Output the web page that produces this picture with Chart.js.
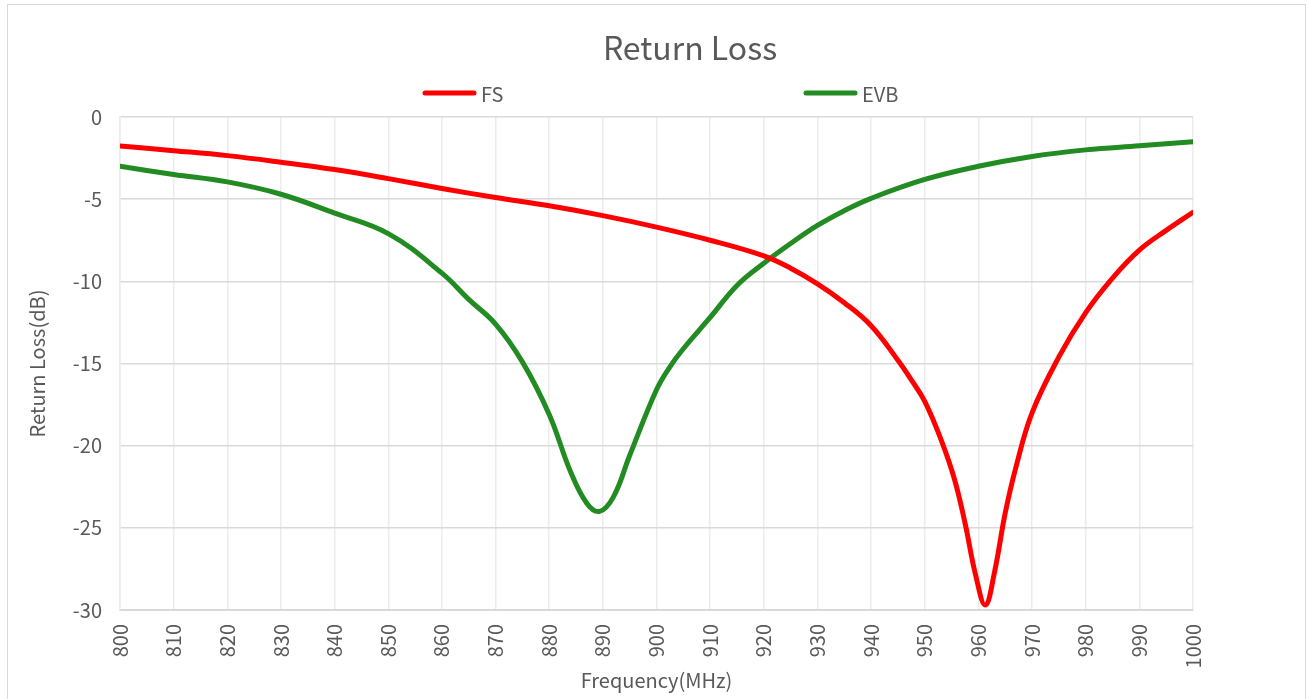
<!DOCTYPE html>
<html>
<head>
<meta charset="utf-8">
<script src="https://cdn.jsdelivr.net/npm/chart.js@4"></script>
<style>
  html, body { margin: 0; padding: 0; background: #fff; overflow: hidden; }
  #frame {
    position: absolute; left: 7px; top: 4px;
    width: 1297px; height: 720px;
    border: 1px solid #d9d9d9;
  }
  #chart { position: absolute; left: 0; top: 0; }
</style>
</head>
<body>
<div id="frame"><canvas id="chart" width="1297" height="694"></canvas></div>
<script>
const FONT = '"Noto Sans CJK SC", "Noto Sans", sans-serif';
const TEXT = '#595959';
const chartTitle = 'Return Loss';

// FS curve (MHz / dB)
const fsFreq = [800, 810, 820, 830, 840, 850, 860, 870, 880, 890, 900, 910, 920, 925, 930, 935,
    940, 945, 947.5, 950, 953, 955.5, 957.5, 959.5, 961.3, 963, 965, 967, 970, 975, 980, 985, 990,
    995, 1000];
const fsLoss = [-1.77, -2.05, -2.35, -2.75, -3.2, -3.75, -4.35, -4.9, -5.4, -6.0, -6.7, -7.5, -8.45,
    -9.2, -10.15, -11.3, -12.7, -14.8, -16.0, -17.3, -19.6, -22.0, -24.7, -27.9, -29.7, -27.7, -24.1,
    -21.3, -18.0, -14.6, -11.9, -9.8, -8.1, -6.9, -5.8];

// EVB curve (MHz / dB)
const evbFreq = [800, 810, 820, 830, 840, 850, 860, 865, 870, 875, 880, 884, 887, 889.4, 892, 895,
    900, 902.5, 905, 910, 915, 920, 925, 930, 935, 940, 950, 960, 970, 980, 990, 1000];
const evbLoss = [-3.0, -3.5, -3.95, -4.7, -5.85, -7.1, -9.5, -11.1, -12.6, -14.9, -18.1, -21.6, -23.5,
    -24.0, -23.1, -20.6, -16.6, -15.2, -14.1, -12.2, -10.25, -8.9, -7.7, -6.6, -5.7, -4.95, -3.8, -3.0,
    -2.4, -2.0, -1.75, -1.5];

const seriesNames = ['FS', 'EVB'];
const seriesColors = ['rgb(255, 0, 0)', 'rgb(34, 139, 34)'];

function toPoints(xs, ys) {
    return xs.map((x, i) => ({x: x, y: ys[i]}));
}

// title + legend drawn like the spreadsheet ones (legend items spread far apart)
const headerPlugin = {
    id: 'headerPlugin',
    afterDraw(chart) {
        const ctx = chart.ctx;
        ctx.save();
        ctx.fillStyle = TEXT;
        ctx.font = '32px ' + FONT;
        ctx.textAlign = 'center';
        ctx.textBaseline = 'middle';
        ctx.fillText(chartTitle, 682, 43);

        const y = 88;
        const starts = [415, 796];
        ctx.font = '20px ' + FONT;
        ctx.textAlign = 'left';
        ctx.lineCap = 'round';
        chart.data.datasets.forEach((ds, i) => {
            const x = starts[i];
            ctx.strokeStyle = ds.borderColor;
            ctx.lineWidth = 5;
            ctx.beginPath();
            ctx.moveTo(x + 2, y);
            ctx.lineTo(x + 51, y);
            ctx.stroke();
            ctx.fillStyle = TEXT;
            ctx.fillText(ds.label, x + 58, y + 1);
        });
        ctx.restore();
    }
};

const data = {
    datasets: [
        {
            label: seriesNames[0],
            data: toPoints(fsFreq, fsLoss),
            borderColor: seriesColors[0],
            backgroundColor: seriesColors[0],
            borderWidth: 5,
            pointRadius: 0,
            tension: 0.4,
            borderCapStyle: 'round',
            borderJoinStyle: 'round'
        },
        {
            label: seriesNames[1],
            data: toPoints(evbFreq, evbLoss),
            borderColor: seriesColors[1],
            backgroundColor: seriesColors[1],
            borderWidth: 5,
            pointRadius: 0,
            tension: 0.4,
            borderCapStyle: 'round',
            borderJoinStyle: 'round'
        }
    ]
};

const config = {
    type: 'line',
    data: data,
    plugins: [headerPlugin],
    options: {
        responsive: false,
        animation: false,
        layout: {
            padding: {left: 0, right: 112, top: 112, bottom: 0}
        },
        plugins: {
            legend: {display: false},
            tooltip: {enabled: false},
            title: {display: false}
        },
        scales: {
            x: {
                type: 'linear',
                min: 800,
                max: 1000,
                afterFit(scale) { scale.height = 89; },
                grid: {color: '#ececec', lineWidth: 1.5, drawTicks: false},
                border: {color: '#d9d9d9', width: 2},
                ticks: {
                    stepSize: 10,
                    minRotation: 90,
                    maxRotation: 90,
                    padding: 14,
                    color: TEXT,
                    font: {family: FONT, size: 20},
                    callback: (v) => String(v)
                },
                title: {
                    display: true,
                    text: 'Frequency(MHz)',
                    color: TEXT,
                    font: {family: FONT, size: 20},
                    padding: {top: 0, bottom: 7}
                }
            },
            y: {
                min: -30,
                max: 0,
                afterFit(scale) { scale.width = 112; },
                grid: {color: '#d9d9d9', lineWidth: 1.5, drawTicks: false},
                border: {color: '#ececec', width: 1.5},
                ticks: {
                    stepSize: 5,
                    padding: 18,
                    color: TEXT,
                    font: {family: FONT, size: 20}
                },
                title: {
                    display: true,
                    text: 'Return Loss(dB)',
                    color: TEXT,
                    font: {family: FONT, size: 20},
                    padding: {top: 17, bottom: 0}
                }
            }
        }
    }
};

new Chart(document.getElementById('chart'), config);
</script>
</body>
</html>
